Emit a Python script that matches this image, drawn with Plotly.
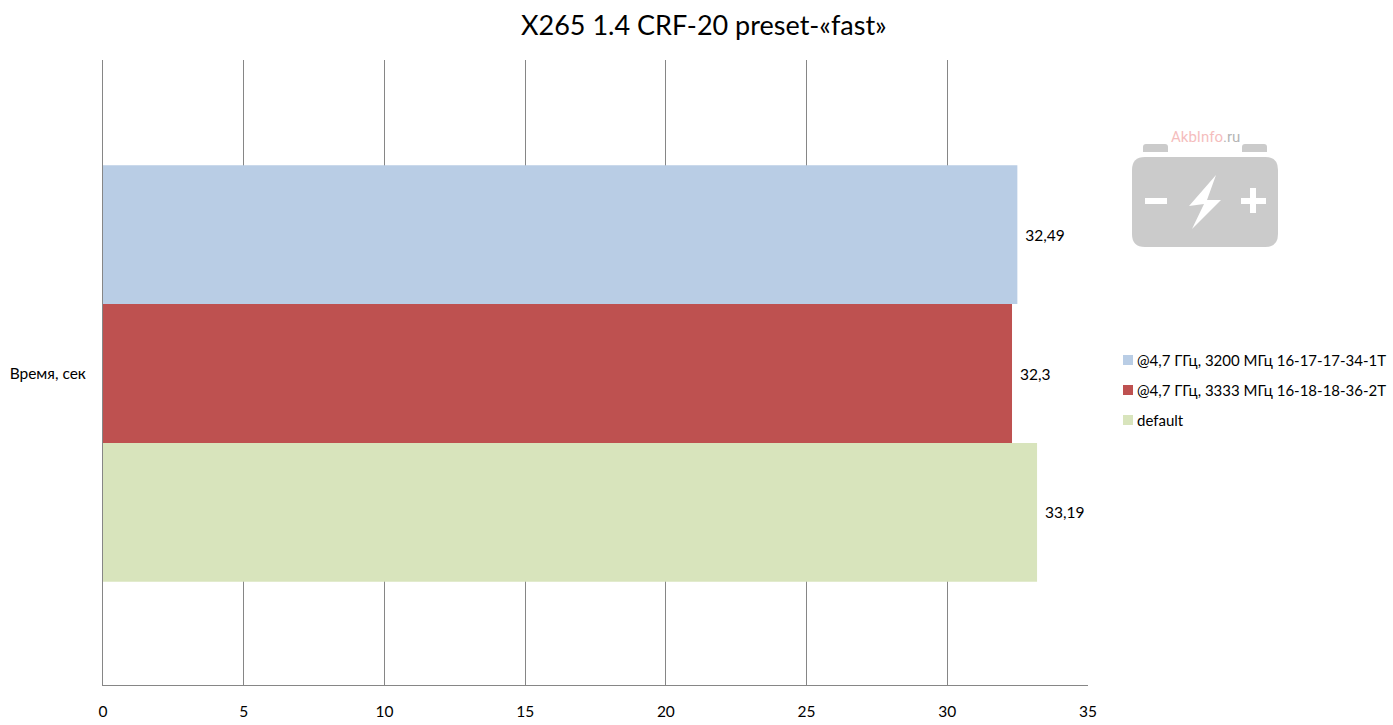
import plotly.graph_objects as go

W, H = 1393, 725
# plot area in the picture, in pixels
LEFT, RIGHT, TOP, BOTTOM = 103, 1088, 60, 685

category = ["Время, сек"]
series_names = ["@4,7 ГГц, 3200 МГц 16-17-17-34-1T", "@4,7 ГГц, 3333 МГц 16-18-18-36-2T", "default"]
series_values = [32.49, 32.3, 33.19]
series_colors = ["#B9CDE5", "#BE5150", "#D8E4BC"]
x_ticks = [0, 5, 10, 15, 20, 25, 30, 35]


def px(x):
    return (x - LEFT) / (RIGHT - LEFT)


def py(y):
    return (BOTTOM - y) / (BOTTOM - TOP)


fig = go.Figure()
for name, value, color in zip(series_names, series_values, series_colors):
    fig.add_trace(go.Bar(y=category, x=[value], name=name, orientation="h",
                         marker=dict(color=color, line_width=0),
                         texttemplate=" \u200a%{x}", textposition="outside", cliponaxis=False,
                         textfont=dict(size=15.5, color="black"), showlegend=False))

shapes = []
annotations = []


def rect(x0, y0, x1, y1, color):
    shapes.append(dict(type="rect", xref="paper", yref="paper", x0=px(x0), x1=px(x1), y0=py(y0), y1=py(y1),
                       fillcolor=color, line_width=0))


def rounded(x0, y0, x1, y1, r, color):
    a, b, c, d = px(x0), px(x0 + r), px(x1 - r), px(x1)
    e, f, g, h = py(y0), py(y0 + r), py(y1 - r), py(y1)
    path = (f"M{b},{e} L{c},{e} Q{d},{e} {d},{f} L{d},{g} Q{d},{h} {c},{h} "
            f"L{b},{h} Q{a},{h} {a},{g} L{a},{f} Q{a},{e} {b},{e} Z")
    shapes.append(dict(type="path", xref="paper", yref="paper", path=path, fillcolor=color, line_width=0))


# legend, spaced like the original one
for i, (name, color) in enumerate(zip(series_names, series_colors)):
    ly = 360 + i * 30
    rect(1123, ly - 5, 1133, ly + 5, color)
    annotations.append(dict(text=name, xref="paper", yref="paper", x=px(1135), y=py(ly), xanchor="left",
                            yanchor="middle", showarrow=False, font=dict(size=15, color="black")))

# battery logo
logo = "#CBCBCB"
rounded(1143, 144, 1168, 156, 3, logo)
rounded(1242, 144, 1267, 156, 3, logo)
rect(1140, 152, 1270, 157, "white")
rounded(1132, 157, 1278, 247, 13, logo)
rect(1145, 198, 1167, 204, "white")
rect(1241, 198, 1266, 204, "white")
rect(1250, 188, 1256, 213, "white")
bolt = [(1216, 175), (1189, 206), (1204, 204), (1192, 229), (1221, 200), (1207, 200)]
bolt_path = "M" + " L".join(f"{px(a)},{py(b)}" for a, b in bolt) + " Z"
shapes.append(dict(type="path", xref="paper", yref="paper", path=bolt_path, fillcolor="white", line_width=0))
annotations.append(dict(text="<span style='color:#F5BDBD'>AkbInfo</span><span style='color:#B5B5B5'>.ru</span>",
                        xref="paper", yref="paper", x=px(1205), y=py(137), xanchor="center", yanchor="middle",
                        showarrow=False, font=dict(family="Roboto", size=15)))

# title
annotations.append(dict(text="X265 1.4 CRF-20 preset-«fast»", xref="paper", yref="paper", x=px(704), y=py(25),
                        xanchor="center", yanchor="middle", showarrow=False, font=dict(size=27, color="black")))

fig.update_layout(
    width=W, height=H, margin=dict(l=LEFT, r=W - RIGHT, t=TOP, b=H - BOTTOM, pad=0, autoexpand=False),
    paper_bgcolor="white", plot_bgcolor="white",
    font=dict(family="Lato", size=15.5, color="black"),
    separators=", ",
    barmode="group", bargap=0.3333, bargroupgap=0,
    shapes=shapes, annotations=annotations,
    xaxis=dict(range=[0, 35], tickvals=x_ticks, showgrid=True, gridcolor="#868686",
               gridwidth=1, showline=True, linecolor="#868686", linewidth=1, zeroline=False,
               ticks="", ticklabelstandoff=12),
    yaxis=dict(range=[0.4984, -0.5016], showgrid=False, showline=True, linecolor="#868686",
               linewidth=1, ticks="", ticklabelstandoff=13),
)

fig.write_html("out.html", config={"displayModeBar": False}, post_script="document.body.style.margin='0';")
